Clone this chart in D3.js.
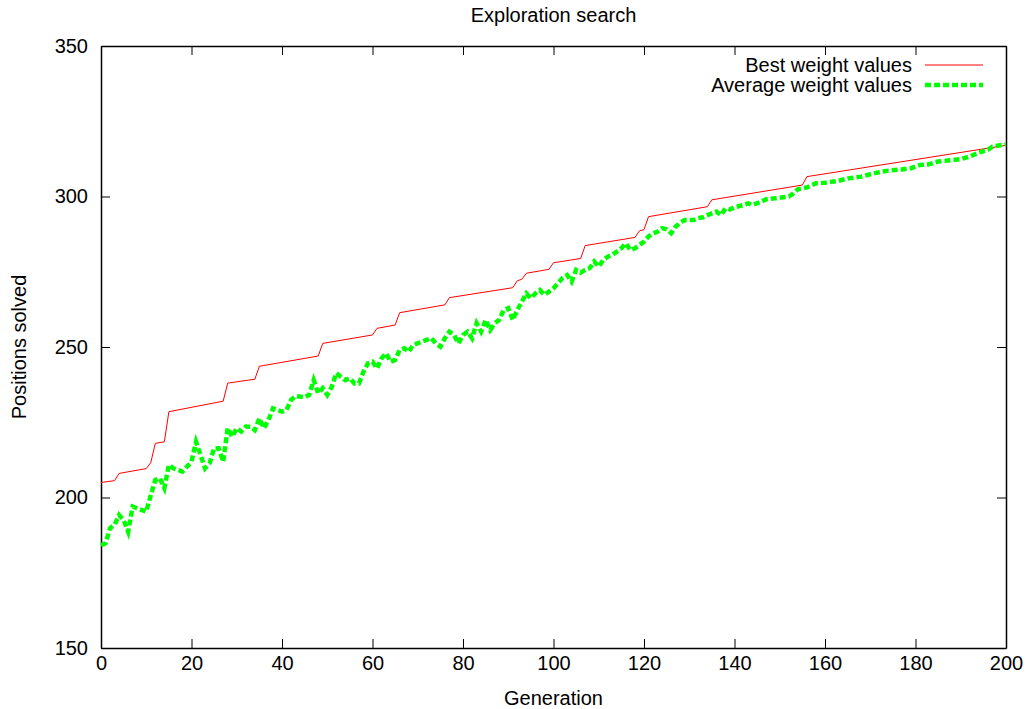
<!DOCTYPE html>
<html>
<head>
<meta charset="utf-8">
<script src="https://cdn.jsdelivr.net/npm/d3@7"></script>
<style>
  body { margin: 0; background: #fff; }
  svg text { font-family: "Liberation Sans", Arial, Helvetica, sans-serif; font-size: 20px; fill: #000; }
</style>
</head>
<body>
<svg id="chart"></svg>
<script>
const chartTitle = "Exploration search";
const xLabel = "Generation";
const yLabel = "Positions solved";
const seriesNames = ["Best weight values", "Average weight values"];

const xTicks = [0, 20, 40, 60, 80, 100, 120, 140, 160, 180, 200];
const yTicks = [150, 200, 250, 300, 350];

// best weight values: corner points of the step line
const bestGen = [0, 3, 4, 10, 11, 12, 14, 15, 27, 28, 34, 35, 48, 49, 60, 61, 65, 66, 76, 77,
  91, 92, 93, 94, 99, 100, 106, 107, 118, 119, 120, 121, 134, 135, 155, 156, 200];
const bestVal = [205, 205.6, 208, 209.6, 211.6, 218, 218.5, 228.5, 232, 238, 239.3, 243.6, 247, 251.2, 254, 256.2, 257.3, 261.4, 264, 266.4,
  269.7, 272, 272.5, 274.5, 275.8, 278, 279.4, 283.7, 286.4, 288.6, 289, 293.3, 296.6, 298.9, 303.8, 306.6, 317];

// average weight values
const avgGen = [0, 1, 2, 3, 4, 5, 6, 7, 8, 10, 11, 12, 13, 14, 15, 16, 18, 20, 21, 22,
  23, 24, 25, 26, 27, 28, 29, 30, 31, 32, 33, 34, 35, 36, 37, 38, 40, 41, 42, 43,
  45, 46, 47, 48, 49, 50, 51, 52, 53, 54, 55, 56, 57, 58, 59, 60, 61, 62, 63, 64,
  65, 66, 67, 68, 69, 71, 73, 74, 75, 76, 77, 78, 79, 80, 81, 82, 83, 84, 85, 86,
  87, 88, 89, 90, 91, 92, 93, 94, 95, 96, 97, 98, 99, 100, 101, 102, 103, 104, 105, 106,
  107, 108, 109, 110, 111, 112, 113, 114, 115, 116, 117, 118, 119, 120, 121, 122, 123, 124, 125, 126,
  127, 128, 129, 131, 132, 133, 134, 135, 136, 137, 138, 139, 140, 142, 143, 144, 146, 147, 149, 152,
  153, 154, 156, 158, 160, 163, 165, 168, 170, 172, 174, 177, 179, 181, 183, 185, 188, 190, 192, 194,
  196, 197, 199, 200];
const avgVal = [184.2, 184.8, 189.8, 190.9, 194.2, 192.5, 188.6, 197, 196.4, 195.3, 200.8, 205.8, 206.4, 203.1, 210.8, 209.7, 208.6, 211.9, 218.5, 214.1,
  209.7, 211.4, 216.4, 216.4, 211.9, 223, 220.2, 223, 221.9, 223.6, 223.5, 222.4, 226.3, 223, 225.7, 229.6, 228.5, 229.1, 232.4, 233.7,
  233.3, 234.1, 239, 234.6, 236.3, 234.1, 236.8, 241.3, 240.1, 239, 239.6, 237.9, 237.9, 241.8, 244.6, 245.1, 242.9, 246.2, 247.9, 245.1,
  245.7, 249, 249.6, 248.4, 250.7, 251.8, 252.9, 251.2, 250.1, 252.9, 255.1, 254, 251.2, 254, 255.1, 252.9, 257.9, 255.1, 259, 255.6,
  257.9, 259, 262.3, 262.9, 259, 262.3, 265, 267.8, 266.2, 267.8, 268.9, 267.3, 268.4, 269.5, 271.2, 272.9, 273.9, 271.7, 275.6, 274.7,
  275.6, 276.2, 278.4, 276.7, 278.9, 280, 280.6, 281.7, 282.8, 284.4, 282.2, 282.8, 283.9, 285, 286.7, 287.8, 288.3, 289.5, 289.1, 287.8,
  290, 291.3, 292.2, 292.2, 292.8, 293.1, 293.8, 294.4, 295, 293.8, 296, 295.7, 296.4, 297.2, 297.7, 297.2, 298.3, 299.1, 299.4, 300,
  301, 302.4, 303, 304.4, 304.6, 305.2, 306, 306.6, 307.4, 308.1, 308.6, 309, 309.4, 310.5, 310.7, 311.6, 312.1, 312.4, 313.3, 314.6,
  315.5, 316.6, 317.1, 317.3];

var svgWidth = 1029, svgHeight = 709;
var margin = {left: 101, right: 23, top: 46, bottom: 61};
var tickLen = 9;

var svg = d3.select("#chart")
  .attr("width", svgWidth)
  .attr("height", svgHeight);

var x = d3.scaleLinear().domain([0, 200]).range([margin.left, svgWidth - margin.right]);
var y = d3.scaleLinear().domain([150, 350]).range([svgHeight - margin.bottom, margin.top]);

// axes, gnuplot style: ticks point inward on all four sides
var axisB = svg.append("g")
  .attr("transform", "translate(0," + y.range()[0] + ")")
  .call(d3.axisBottom(x).tickValues(xTicks).tickSizeInner(-tickLen).tickSizeOuter(0).tickPadding(8));
var axisT = svg.append("g")
  .attr("transform", "translate(0," + y.range()[1] + ")")
  .call(d3.axisTop(x).tickValues(xTicks).tickSizeInner(-tickLen).tickSizeOuter(0).tickFormat(""));
var axisL = svg.append("g")
  .attr("transform", "translate(" + x.range()[0] + ",0)")
  .call(d3.axisLeft(y).tickValues(yTicks).tickSizeInner(-tickLen).tickSizeOuter(0).tickPadding(13));
var axisR = svg.append("g")
  .attr("transform", "translate(" + x.range()[1] + ",0)")
  .call(d3.axisRight(y).tickValues(yTicks).tickSizeInner(-tickLen).tickSizeOuter(0).tickFormat(""));

[axisB, axisT, axisL, axisR].forEach(function(g) {
  g.attr("font-size", null).attr("font-family", null);
  g.select(".domain").attr("stroke", "#000").attr("stroke-width", 1.5);
  g.selectAll(".tick line").attr("stroke", "#000").attr("stroke-width", 1);
});

// series lines
var line = d3.line()
  .x(function(d) { return x(d[0]); })
  .y(function(d) { return y(d[1]); });

var bestData = bestGen.map(function(g, i) { return [g, bestVal[i]]; });
var avgData = avgGen.map(function(g, i) { return [g, avgVal[i]]; });

svg.append("path")
  .datum(bestData)
  .attr("d", line)
  .attr("fill", "none")
  .attr("stroke", "#ff0000")
  .attr("stroke-width", 1);

svg.append("path")
  .datum(avgData)
  .attr("d", line)
  .attr("fill", "none")
  .attr("stroke", "#00ff00")
  .attr("stroke-width", 4.5)
  .attr("stroke-dasharray", "6,3");

// titles
svg.append("text")
  .attr("x", (x.range()[0] + x.range()[1]) / 2)
  .attr("y", 15)
  .attr("dy", "0.35em")
  .attr("text-anchor", "middle")
  .text(chartTitle);

svg.append("text")
  .attr("x", (x.range()[0] + x.range()[1]) / 2)
  .attr("y", 698)
  .attr("dy", "0.35em")
  .attr("text-anchor", "middle")
  .text(xLabel);

svg.append("text")
  .attr("transform", "translate(19," + (y.range()[0] + y.range()[1]) / 2 + ") rotate(-90)")
  .attr("dy", "0.35em")
  .attr("text-anchor", "middle")
  .text(yLabel);

// legend
var legendY = [65, 85];
var legendStyles = [
  {stroke: "#ff0000", width: 1, dash: null},
  {stroke: "#00ff00", width: 4.5, dash: "6,3"}
];
seriesNames.forEach(function(name, i) {
  svg.append("text")
    .attr("x", 912)
    .attr("y", legendY[i])
    .attr("dy", "0.35em")
    .attr("text-anchor", "end")
    .text(name);
  svg.append("line")
    .attr("x1", 925).attr("x2", 983)
    .attr("y1", legendY[i]).attr("y2", legendY[i])
    .attr("stroke", legendStyles[i].stroke)
    .attr("stroke-width", legendStyles[i].width)
    .attr("stroke-dasharray", legendStyles[i].dash);
});
</script>
</body>
</html>
